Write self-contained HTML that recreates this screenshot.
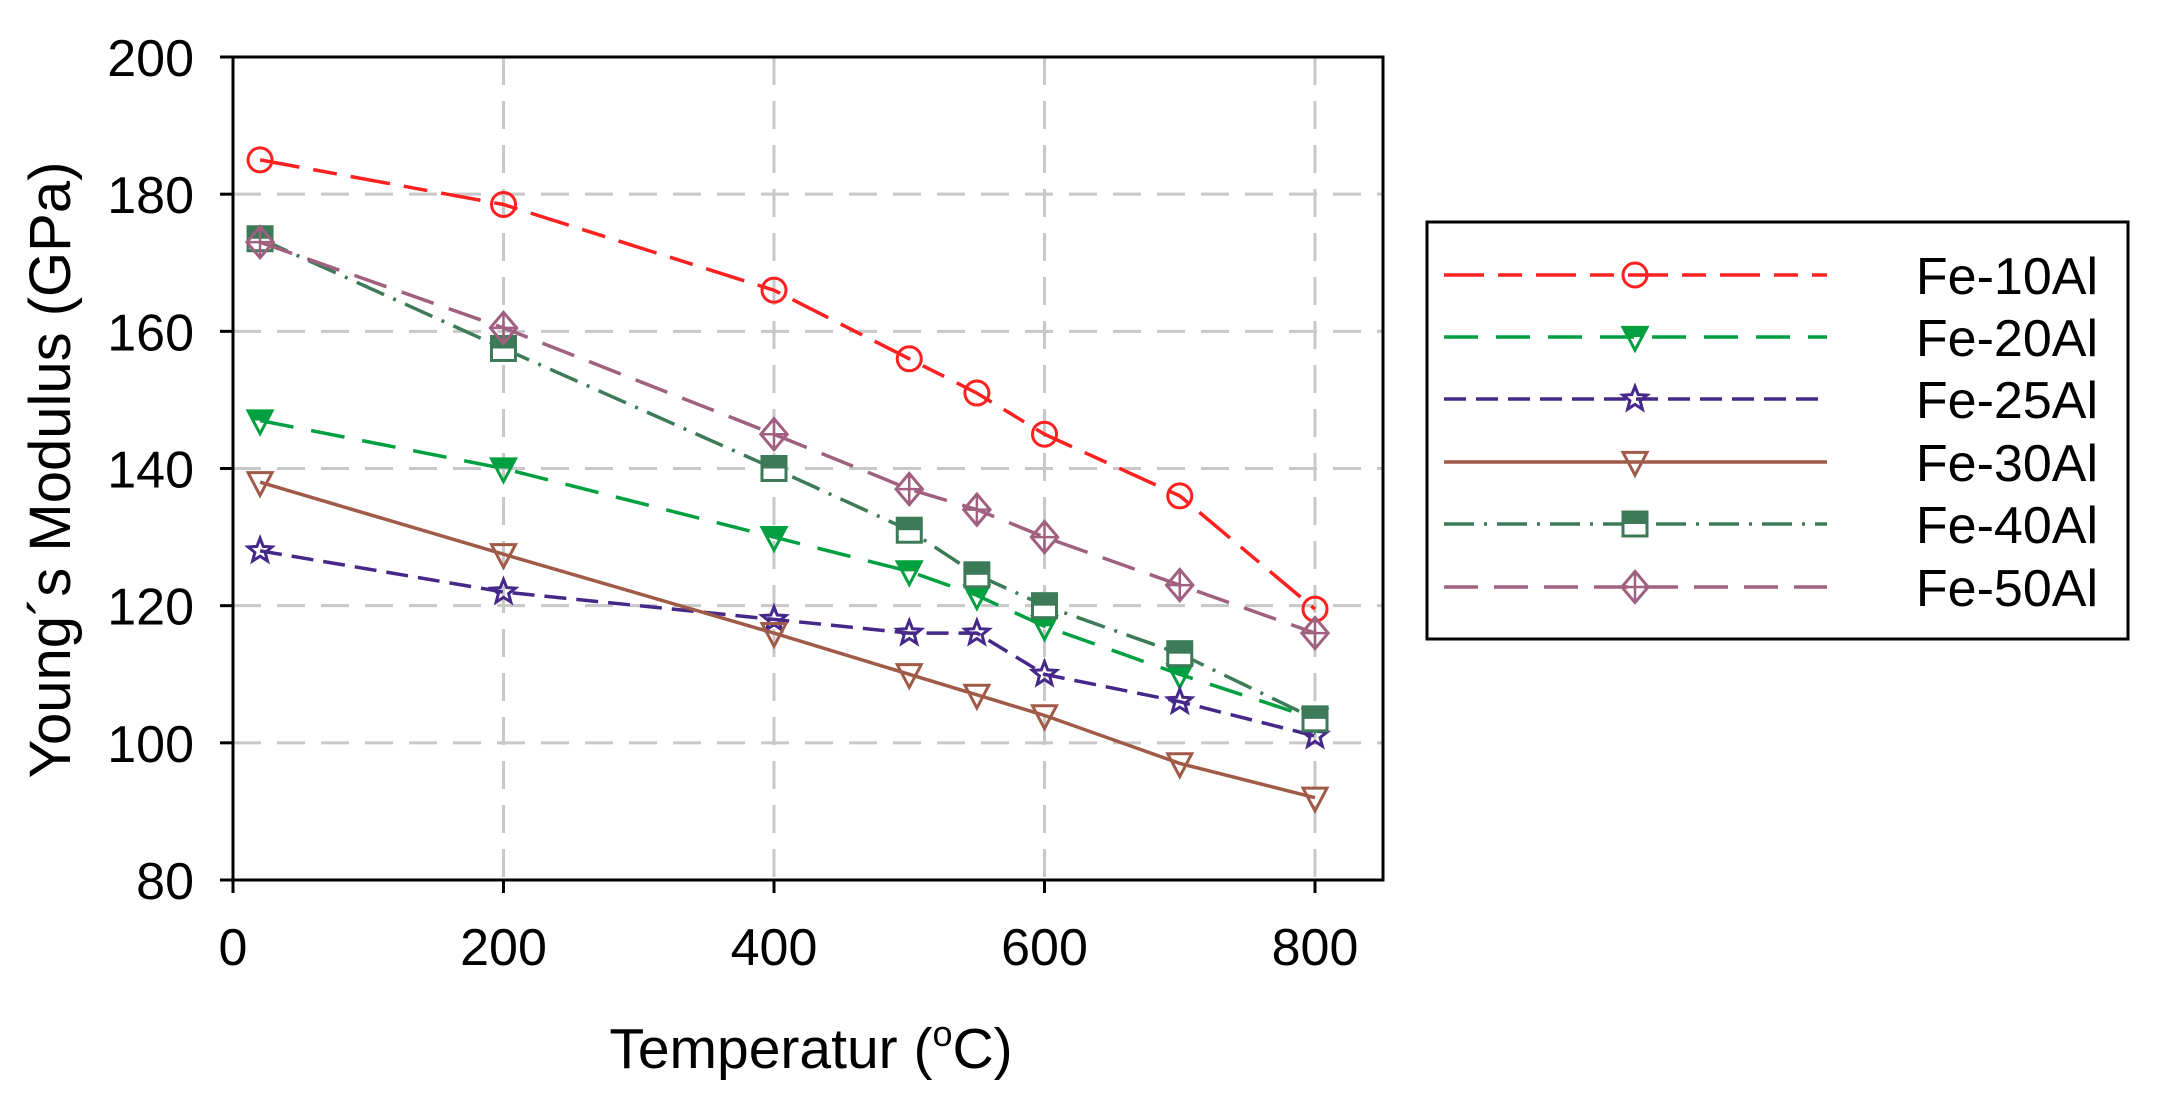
<!DOCTYPE html>
<html><head><meta charset="utf-8"><style>
html,body{margin:0;padding:0;background:#fff;}
svg{display:block;}
text{font-family:"Liberation Sans",Arial,sans-serif;fill:#000;}
</style></head><body>
<svg id="chart" width="2161" height="1102" viewBox="0 0 2161 1102" xmlns="http://www.w3.org/2000/svg">
<g id="grid"></g>
<g id="series"></g>
<rect x="233" y="57" width="1150" height="823" fill="none" stroke="#000" stroke-width="3"/>
<g id="ticks"></g>
<text x="811" y="1068" font-size="57" text-anchor="middle">Temperatur (<tspan font-size="36" dy="-22">o</tspan><tspan dy="22">C)</tspan></text>
<text transform="translate(70,470) rotate(-90)" font-size="58" text-anchor="middle">Young´s Modulus (GPa)</text>
<g id="legend">
<rect x="1427" y="222" width="701" height="417" fill="#fff" stroke="#000" stroke-width="3"/>
</g>
</svg>
<script>
const temps=[20,200,400,500,550,600,700,800];
const fe10=[185,178.5,166,156,151,145,136,119.5];
const fe20=[147,140,130,125,121.5,117,110,103.5];
const fe25=[128,122,118,116,116,110,106,101];
const fe30=[138,127.5,116,110,107,104,97,92];
const fe40=[173.5,157.5,140,131,124.5,120,113,103.5];
const fe50=[173,160.5,145,137,134,130,123,116];
const seriesNames=['Fe-10Al','Fe-20Al','Fe-25Al','Fe-30Al','Fe-40Al','Fe-50Al'];
const xTicks=[0,200,400,600,800];
const yTicks=[80,100,120,140,160,180,200];

const NS='http://www.w3.org/2000/svg';
const X0=233,X1=1383,Y0=57,Y1=880;
function xs(v){return 233+(v/800)*(1315-233);}
function ys(v){return 880-(v-80)/120*(880-57);}
function mk(tag,attrs,parent){const e=document.createElementNS(NS,tag);for(const k in attrs)e.setAttribute(k,attrs[k]);parent.appendChild(e);return e;}

const grid=document.getElementById('grid'),ticks=document.getElementById('ticks');
xTicks.forEach(t=>{
  const x=xs(t);
  if(t>0){const g=mk('line',{x1:x,x2:x,y1:Y0,y2:Y1,stroke:'#c8c8c8','stroke-width':3,'stroke-dasharray':'28 16'},grid);
  
  }
  const tk=mk('line',{x1:x,x2:x,y1:Y1,y2:Y1+13,stroke:'#000','stroke-width':3},ticks);
  
  
  const lb=mk('text',{x:x,y:965,'font-size':52,'text-anchor':'middle'},ticks);lb.textContent=t;
  
  
});
yTicks.forEach(t=>{
  const y=ys(t);
  if(t>80&&t<200){const g=mk('line',{x1:X0,x2:X1,y1:y,y2:y,stroke:'#c8c8c8','stroke-width':3,'stroke-dasharray':'28 16'},grid);
  
  }
  const tk=mk('line',{x1:X0-13,x2:X0,y1:y,y2:y,stroke:'#000','stroke-width':3},ticks);
  
  
  const lb=mk('text',{x:194,y:y+19,'font-size':52,'text-anchor':'end'},ticks);lb.textContent=t;
  
  
});

const styles=[
 {c:'#ff2020',d:'40 14 24 14',m:'circle'},
 {c:'#00a040',d:'34 18',m:'tri-fill'},
 {c:'#46288a',d:'22 10',m:'star'},
 {c:'#a05a48',d:'',m:'tri'},
 {c:'#3c7a58',d:'30 10 3 10',m:'square'},
 {c:'#a06080',d:'34 16 34 16',m:'diamond'}
];
const data=[fe10,fe20,fe25,fe30,fe40,fe50];
function marker(type,x,y,c,parent){
  const r=12;let e;
  if(type==='circle')e=mk('circle',{cx:x,cy:y,r:r,fill:'#fff','fill-opacity':0,stroke:c,'stroke-width':3},parent);
  else if(type==='tri'||type==='tri-fill'){
    e=mk('polygon',{points:`${x-r},${y-r*0.8} ${x+r},${y-r*0.8} ${x},${y+r*1.1}`,fill:'none',stroke:c,'stroke-width':3},parent);
    if(type==='tri-fill')mk('polygon',{points:`${x-r},${y-r*0.8} ${x+r},${y-r*0.8} ${x+r*0.55},${y} ${x-r*0.55},${y}`,fill:c},parent);
  }
  else if(type==='star'){let p=[];for(let i=0;i<10;i++){const a=-Math.PI/2+i*Math.PI/5,rr=i%2?r*0.45:r*1.05;p.push((x+rr*Math.cos(a)).toFixed(1)+','+(y+rr*Math.sin(a)).toFixed(1));}
    e=mk('polygon',{points:p.join(' '),fill:'none',stroke:c,'stroke-width':3},parent);}
  else if(type==='square'){mk('rect',{x:x-r,y:y-r,width:2*r,height:2*r,fill:'#fff',stroke:c,'stroke-width':3},parent);
    e=mk('rect',{x:x-r,y:y-r,width:2*r,height:r,fill:c},parent);}
  else if(type==='diamond'){e=mk('polygon',{points:`${x},${y-r*1.3} ${x+r*1.1},${y} ${x},${y+r*1.3} ${x-r*1.1},${y}`,fill:'none',stroke:c,'stroke-width':3},parent);
    mk('path',{d:`M${x} ${y-r*1.3}V${y+r*1.3}M${x-r*1.1} ${y}H${x+r*1.1}`,stroke:c,'stroke-width':2.5},parent);}
  return e;
}
const sg=document.getElementById('series');
data.forEach((vals,si)=>{
  const st=styles[si];
  const g=mk('g',{},sg);
  
  
  const pts=vals.map((v,i)=>xs(temps[i]).toFixed(1)+','+ys(v).toFixed(1)).join(' ');
  const pl=mk('polyline',{points:pts,fill:'none',stroke:st.c,'stroke-width':3.5,'stroke-dasharray':st.d},g);
  
  
  vals.forEach((v,i)=>{
    const m=marker(st.m,xs(temps[i]),ys(v),st.c,g);
    
    
  });
});
const lg=document.getElementById('legend');
const legY=[275,337,399,462,524,587];
seriesNames.forEach((n,i)=>{
  const st=styles[i];
  const g=mk('g',{},lg);
  
  
  mk('line',{x1:1444,x2:1827,y1:legY[i],y2:legY[i],stroke:st.c,'stroke-width':3.5,'stroke-dasharray':st.d},g);
  marker(st.m,1635,legY[i],st.c,g);
  const t=mk('text',{x:2098,y:legY[i]+19,'font-size':52,'text-anchor':'end'},g);t.textContent=n;
  
  
});
</script>
</body></html>
